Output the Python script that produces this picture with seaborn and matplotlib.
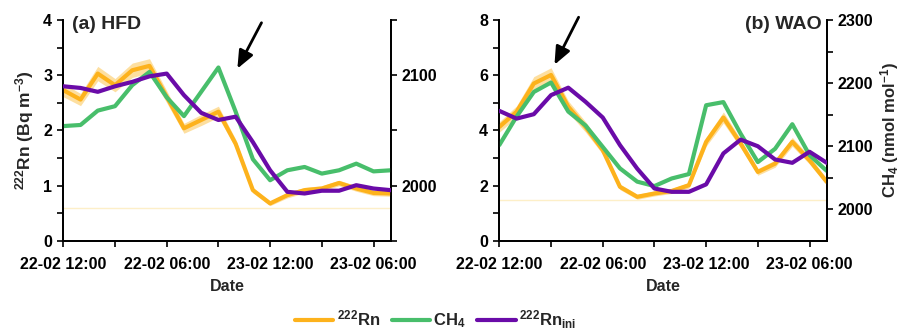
import matplotlib
matplotlib.use("Agg")
import matplotlib.pyplot as plt
import seaborn as sns
import pandas as pd
from matplotlib.ticker import MultipleLocator, FixedLocator
from matplotlib.lines import Line2D

# ---------------- data ----------------
hours = list(range(20))
xtick_pos = [0, 3, 6, 9, 12, 15, 18]
xtick_labels = ["22-02 12:00", "", "22-02 06:00", "", "23-02 12:00", "", "23-02 06:00"]

# (a) HFD
hfd_rn = [2.73, 2.56, 3.03, 2.82, 3.09, 3.17, 2.61, 2.04, 2.19, 2.34,
          1.76, 0.92, 0.68, 0.83, 0.92, 0.95, 1.05, 0.95, 0.87, 0.86]
hfd_rn_err = [0.12, 0.11, 0.13, 0.12, 0.13, 0.13, 0.11, 0.09, 0.10, 0.10,
              0.08, 0.05, 0.04, 0.05, 0.05, 0.05, 0.05, 0.05, 0.05, 0.05]
hfd_ch4 = [2054, 2055, 2068, 2072, 2091, 2103, 2080, 2063, 2085, 2107,
           2067, 2024, 2005, 2014, 2017, 2011, 2014, 2020, 2013, 2014]
hfd_rn_ini = [2.80, 2.77, 2.70, 2.80, 2.88, 2.98, 3.03, 2.64, 2.32, 2.19,
              2.25, 1.79, 1.28, 0.89, 0.86, 0.91, 0.91, 1.01, 0.95, 0.92]
hfd_limit = 0.6

# (b) WAO
wao_rn = [4.13, 4.68, 5.70, 6.01, 4.86, 4.13, 3.29, 1.96, 1.60, 1.72,
          1.81, 2.02, 3.59, 4.47, 3.53, 2.50, 2.80, 3.59, 2.92, 2.14]
wao_rn_err = [0.19, 0.21, 0.25, 0.26, 0.21, 0.19, 0.15, 0.10, 0.09, 0.09,
              0.09, 0.10, 0.16, 0.20, 0.16, 0.12, 0.13, 0.16, 0.14, 0.11]
wao_ch4 = [2102, 2147, 2186, 2201, 2155, 2133, 2099, 2065, 2044, 2037,
           2049, 2056, 2165, 2170, 2120, 2075, 2096, 2135, 2086, 2061]
wao_rn_ini = [4.71, 4.43, 4.59, 5.28, 5.55, 5.04, 4.47, 3.47, 2.62, 1.90,
              1.78, 1.78, 2.05, 3.17, 3.67, 3.43, 2.95, 2.83, 3.23, 2.83]
wao_limit = 1.5

ORANGE = "#FDB21C"
BAND = "#FDDFA0"
GREEN = "#48BE6B"
PURPLE = "#6A0BA8"
LIMIT = "#FDEFC8"

# ---------------- style ----------------
sns.set_theme(style="ticks")
plt.rcParams.update({
    "font.family": ["Liberation Sans", "DejaVu Sans"],
    "font.weight": "bold",
    "axes.labelweight": "bold",
    "mathtext.fontset": "custom",
    "mathtext.rm": "Liberation Sans:bold",
    "mathtext.it": "Liberation Sans:bold",
    "mathtext.bf": "Liberation Sans:bold",
    "mathtext.default": "rm",
    "axes.linewidth": 1.3,
    "xtick.color": "black",
    "ytick.color": "black",
    "axes.edgecolor": "black",
})

fig = plt.figure(figsize=(9.02, 3.31), dpi=100)
ax_a = fig.add_axes([0.0702, 0.2719, 0.363, 0.6677])
ax_b = fig.add_axes([0.5536, 0.2719, 0.363, 0.6677])

LW = 3.0
TICK_FS = 11.5


def panel(ax, rn, err, ch4, rn_ini, limit, ylim, ch4_lim, ch4_major, ch4_minor,
          ymajor, title, title_xy, title_ha, arrow_head, arrow_tail, show_left_label,
          show_right_label):
    df_rn = pd.DataFrame({"x": hours, "v": rn})
    df_ch4 = pd.DataFrame({"x": hours, "v": ch4})
    df_ini = pd.DataFrame({"x": hours, "v": rn_ini})

    ax.axhline(limit, color=LIMIT, lw=1.0, zorder=1)
    ax.fill_between(hours, [a - b for a, b in zip(rn, err)],
                    [a + b for a, b in zip(rn, err)], color=BAND, lw=0, zorder=2)
    sns.lineplot(data=df_rn, x="x", y="v", ax=ax, color=ORANGE, lw=LW, zorder=3)

    tw = ax.twinx()
    sns.lineplot(data=df_ch4, x="x", y="v", ax=tw, color=GREEN, lw=LW)
    tw.set_ylim(*ch4_lim)
    tw.yaxis.set_major_locator(FixedLocator(ch4_major))
    tw.yaxis.set_minor_locator(FixedLocator(ch4_minor))
    tw.tick_params(axis="y", which="both", direction="out", labelsize=TICK_FS,
                   length=4.5, width=1.2, pad=3)
    for lab in tw.get_yticklabels():
        lab.set_fontweight("bold")
    tw.spines["top"].set_visible(False)
    tw.set_xlabel("")
    if show_right_label:
        tw.set_ylabel(r"CH$_4$ (nmol mol$^{-1}$)", fontsize=12, fontweight="bold",
                      labelpad=4)
    else:
        tw.set_ylabel("")

    top = ax.twinx()
    top.sharey(ax)
    sns.lineplot(data=df_ini, x="x", y="v", ax=top, color=PURPLE, lw=LW)
    top.axis("off")

    ax.set_xlim(0, 19)
    ax.set_ylim(*ylim)
    ax.yaxis.set_major_locator(MultipleLocator(ymajor))
    ax.yaxis.set_minor_locator(MultipleLocator(ymajor / 2))
    ax.set_xticks(xtick_pos)
    ax.set_xticklabels(xtick_labels)
    ax.tick_params(axis="both", which="both", direction="out", labelsize=TICK_FS,
                   length=4.5, width=1.2)
    ax.tick_params(axis="x", pad=7)
    for lab in ax.get_xticklabels() + ax.get_yticklabels():
        lab.set_fontweight("bold")
    ax.spines["top"].set_visible(False)
    ax.set_xlabel("Date", fontsize=TICK_FS, fontweight="bold", labelpad=5)
    if show_left_label:
        ax.set_ylabel(r"$^{222}$Rn (Bq m$^{-3}$)", fontsize=12.5, fontweight="bold",
                      labelpad=5)
    else:
        ax.set_ylabel("")

    top.text(title_xy[0], title_xy[1], title, transform=ax.transAxes, ha=title_ha,
             va="top", fontsize=14, fontweight="bold")
    top.annotate("", xy=arrow_head, xytext=arrow_tail, xycoords="data",
                 textcoords="data", annotation_clip=False,
                 arrowprops=dict(arrowstyle="-|>,head_length=0.9,head_width=0.38",
                                 color="black", lw=2.0, shrinkA=0, shrinkB=0))
    return tw


panel(ax_a, hfd_rn, hfd_rn_err, hfd_ch4, hfd_rn_ini, hfd_limit, (0, 4),
      (1950, 2150), [2000, 2100], [1950, 2050, 2150], 1,
      "(a) HFD", (0.025, 1.02), "left", (10.1, 3.12), (11.5, 3.95), True, False)
panel(ax_b, wao_rn, wao_rn_err, wao_ch4, wao_rn_ini, wao_limit, (0, 8),
      (1950, 2300), [2000, 2100, 2200, 2300], [2050, 2150, 2250], 2,
      "(b) WAO", (0.985, 1.02), "right", (3.2, 6.38), (4.6, 8.1), False, True)

handles = [Line2D([], [], color=ORANGE, lw=LW),
           Line2D([], [], color=GREEN, lw=LW),
           Line2D([], [], color=PURPLE, lw=LW)]
labels = [r"$^{222}$Rn", r"CH$_4$", r"$^{222}$Rn$_{ini}$"]
fig.legend(handles, labels, loc="center", bbox_to_anchor=(0.483, 0.035), ncol=3,
           frameon=False, handlelength=2.3, columnspacing=0.7,
           handletextpad=0.2, prop={"weight": "bold", "size": 12})

fig.savefig("out.png", dpi=100)
